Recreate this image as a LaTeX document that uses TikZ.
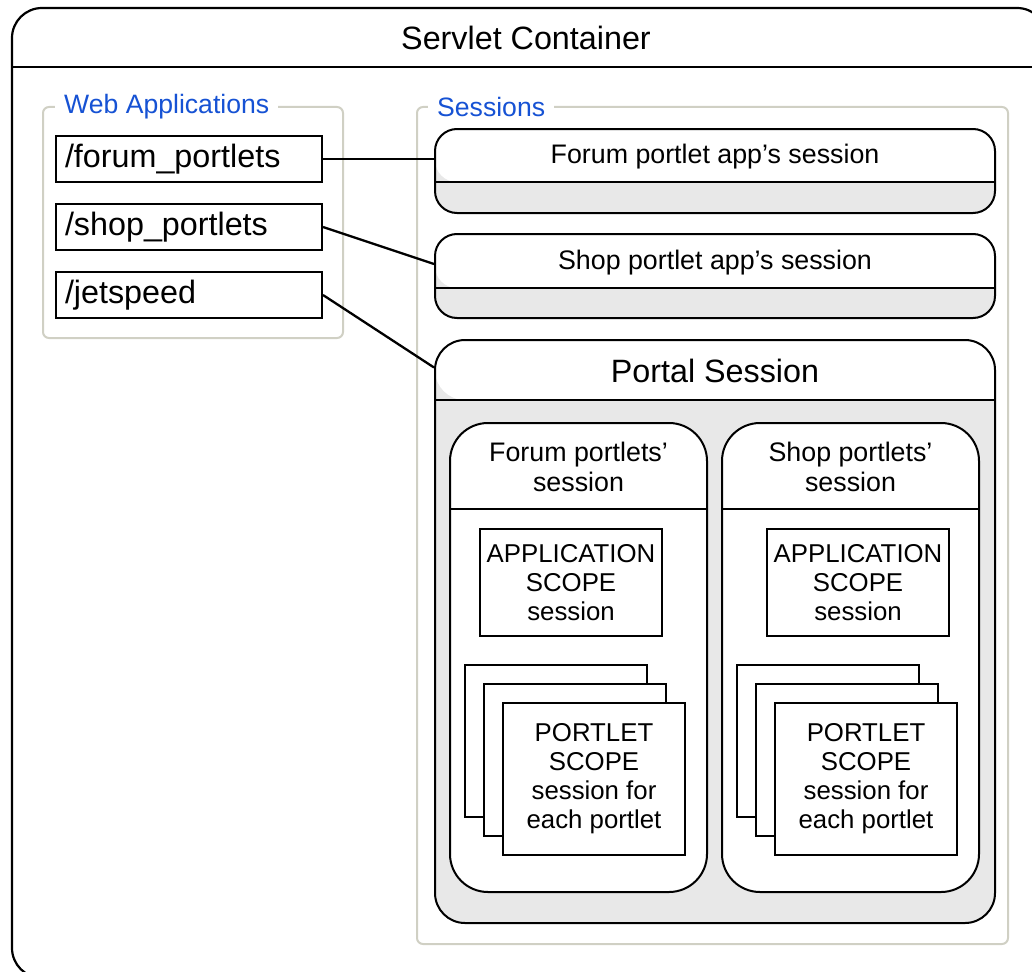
\documentclass[tikz,border=0pt]{standalone}
\usepackage{fontspec}
\setmainfont{Liberation Sans}
\usepackage{tikz}
\usetikzlibrary{positioning}
\definecolor{ink}{HTML}{000000}
\definecolor{frame}{HTML}{D0D0C4}
\definecolor{caption}{HTML}{1652D4}
\definecolor{shade}{HTML}{E8E8E8}
\tikzset{x=1pt,y=-1pt,
  line/.style={draw=ink,line width=2pt},
  group/.style={draw=frame,line width=2pt,rounded corners=6pt},
  grouplab/.style={anchor=west,fill=white,text=caption,inner xsep=9pt,inner ysep=1pt,
    font=\fontsize{26.6}{30}\selectfont},
  webapp/.style={line,fill=white,minimum width=266pt,minimum height=46pt,text width=248pt,
    inner xsep=9pt,align=left,font=\fontsize{32.3}{37}\selectfont},
  sess/.style={line,fill=shade,rounded corners=#1},
  head/.style={path picture={
    \fill[white] (path picture bounding box.north west) rectangle ++(1000,#1);
    \draw[line] (path picture bounding box.north west) ++(0,#1) -- ++(1000,0);}},
  scopebox/.style={line,fill=white,align=center,font=\fontsize{25.8}{29}\selectfont},
  wire/.style={draw=ink,line width=2.3pt},
  big/.style={font=\fontsize{32.3}{37}\selectfont},
  mid/.style={font=\fontsize{26.8}{30.5}\selectfont,align=center}}

\begin{document}
\begin{tikzpicture}
  \useasboundingbox (0,0) rectangle (1032,971);
  \clip (0,0) rectangle (1032,971);
  % servlet container
  \draw[line,line width=2.2pt,rounded corners=30pt] (12,8) rectangle (1047,978);
  \draw[line] (12,67) -- (1047,67);
  \node[big] (container) at (526,38) {Servlet Container};

  % web applications
  \draw[group] (43,107) rectangle (343,338);
  \node[grouplab] (webLab) at (55,107) {Web Applications};
  \node[webapp] (forumPath) at (189,159) {/forum\_portlets};
  \node[webapp] (shopPath) at (189,227) {/shop\_portlets};
  \node[webapp] (jetPath) at (189,295) {/jetspeed};

  % sessions
  \draw[group] (417,107) rectangle (1008,944);
  \node[grouplab] (sessLab) at (428,107) {Sessions};
  \node[sess=22pt,head=53,minimum width=560pt,minimum height=84pt] (forumApp) at (715,171) {};
  \node[mid] (forumAppLab) at (715,157) {Forum portlet app’s session};
  \node[sess=22pt,head=54,minimum width=560pt,minimum height=84pt] (shopApp) at (715,276) {};
  \node[mid] (shopAppLab) at (715,263) {Shop portlet app’s session};

  % portal session
  \node[sess=30pt,head=60,minimum width=560pt,minimum height=583pt] (portal) at (715,631.5) {};
  \node[big] (portalLab) at (715,371) {Portal Session};

  % forum portlets
  \node[sess=38pt,fill=white,head=86,minimum width=257pt,minimum height=469pt] (forumPortal) at (578.5,657.5) {};
  \node[mid] (forumPortalLab) at (578.5,467) {Forum portlets’\\session};
  \node[scopebox,minimum width=182pt,minimum height=107pt] (forumAppScope) at (571,582.5) {APPLICATION\\SCOPE\\session};
  \node[scopebox,minimum width=182pt,minimum height=152pt] (forumBack) at (556,741) {};
  \node[scopebox,minimum width=182pt,minimum height=152pt] (forumMid) at (575,760) {};
  \node[scopebox,minimum width=182pt,minimum height=152pt] (forumScope) at (594,779) {PORTLET\\SCOPE\\session for\\each portlet};

  % shop portlets
  \node[sess=38pt,fill=white,head=86,minimum width=257pt,minimum height=469pt] (shopPortal) at (850.5,657.5) {};
  \node[mid] (shopPortalLab) at (850.5,467) {Shop portlets’\\session};
  \node[scopebox,minimum width=182pt,minimum height=107pt] (shopAppScope) at (858,582.5) {APPLICATION\\SCOPE\\session};
  \node[scopebox,minimum width=182pt,minimum height=152pt] (shopBack) at (828,741) {};
  \node[scopebox,minimum width=182pt,minimum height=152pt] (shopMid) at (847,760) {};
  \node[scopebox,minimum width=182pt,minimum height=152pt] (shopScope) at (866,779) {PORTLET\\SCOPE\\session for\\each portlet};

  % links
  \draw[wire] (forumPath.east) -- (forumApp.west |- forumPath.east);
  \draw[wire] (shopPath.east) -- ([yshift=12pt]shopApp.west);
  \draw[wire] (jetPath.east) -- ([yshift=264pt]portal.west);
\end{tikzpicture}
\end{document}
